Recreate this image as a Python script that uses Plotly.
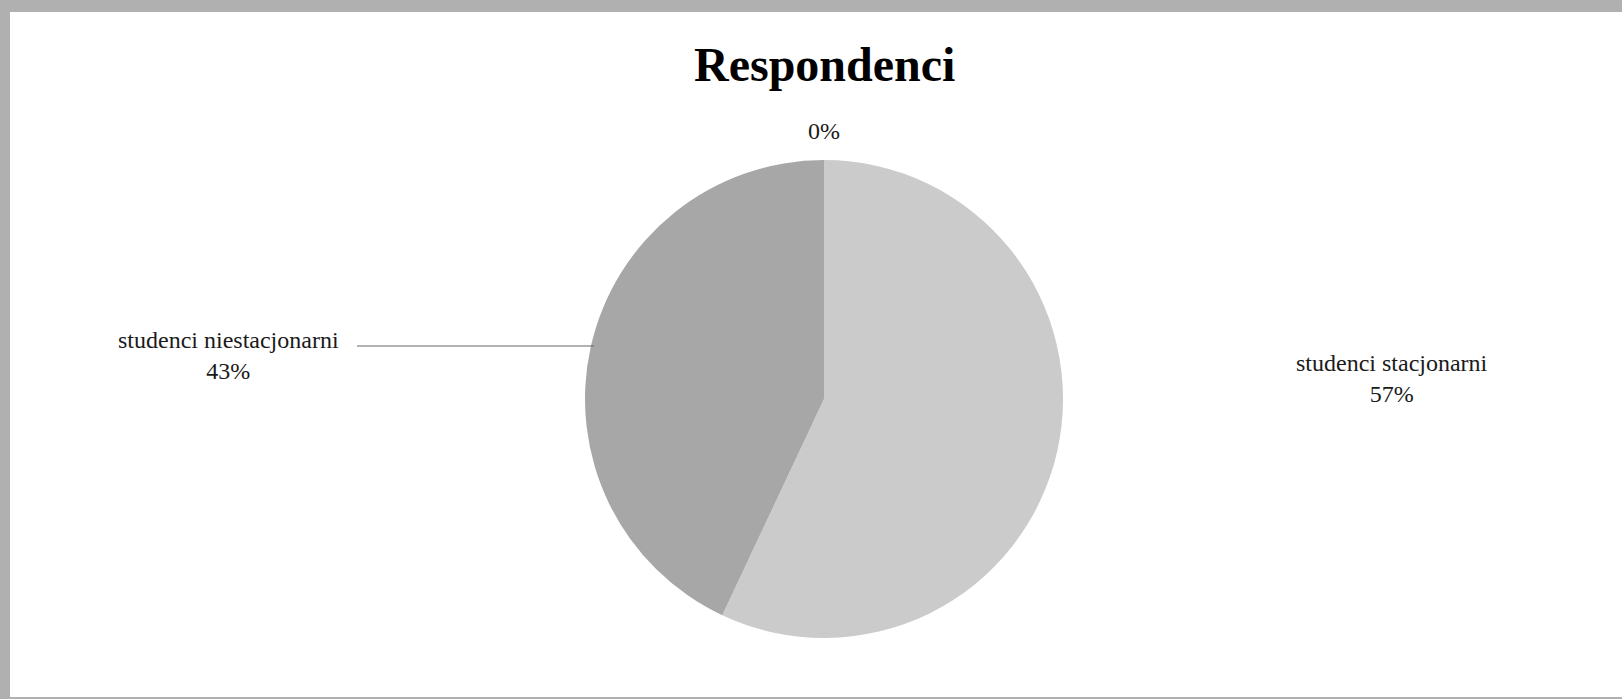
import plotly.graph_objects as go

W, H = 1622, 699

categories = ["studenci stacjonarni", "studenci niestacjonarni", ""]
values = [57, 43, 0]
colors = ["#cbcbcb", "#a7a7a7", "#8c8c8c"]
title_text = "Respondenci"

total = sum(values)
pcts = [round(v / total * 100) for v in values]

def px_x(x):
    return x / W

def px_y(y):
    return 1 - y / H

fig = go.Figure()
fig.add_trace(go.Pie(
    labels=categories,
    values=values,
    sort=False,
    direction="clockwise",
    rotation=0,
    textinfo="none",
    hoverinfo="label+percent",
    marker=dict(colors=colors, line=dict(width=0)),
    showlegend=False,
    domain=dict(x=[px_x(824 - 239), px_x(824 + 239)], y=[px_y(638), px_y(160)]),
))

font_serif = "Liberation Serif, Times New Roman, serif"

# label positions (layout only)
label_pos = [(1392, 378), (228, 355), (824, 131)]
annotations = []
for cat, p, (x, y) in zip(categories, pcts, label_pos):
    txt = f"{cat}<br>{p}%" if cat else f"{p}%"
    annotations.append(dict(
        x=px_x(x), y=px_y(y), xref="paper", yref="paper",
        text=txt, showarrow=False, align="center",
        font=dict(family=font_serif, size=24, color="#1a1a1a"),
        xanchor="center", yanchor="middle",
    ))
annotations.append(dict(
    x=px_x(824), y=px_y(64), xref="paper", yref="paper",
    text=f"<b>{title_text}</b>", showarrow=False,
    font=dict(family=font_serif, size=48, color="#000000"),
    xanchor="center", yanchor="middle",
))

shapes = [
    # white inner panel
    dict(type="rect", xref="paper", yref="paper", x0=px_x(10), x1=1.0,
         y0=px_y(697), y1=px_y(12), fillcolor="white", line=dict(width=0), layer="below"),
    # leader line
    dict(type="line", xref="paper", yref="paper", x0=px_x(357), x1=px_x(594),
         y0=px_y(346), y1=px_y(346), line=dict(color="#666666", width=1)),
]

fig.update_layout(
    width=W, height=H,
    margin=dict(l=0, r=0, t=0, b=0),
    paper_bgcolor="#b0b0b0",
    plot_bgcolor="white",
    annotations=annotations,
    shapes=shapes,
)

fig.write_html("out.html", config={"displayModeBar": False},
               post_script="document.body.style.margin='0';")
